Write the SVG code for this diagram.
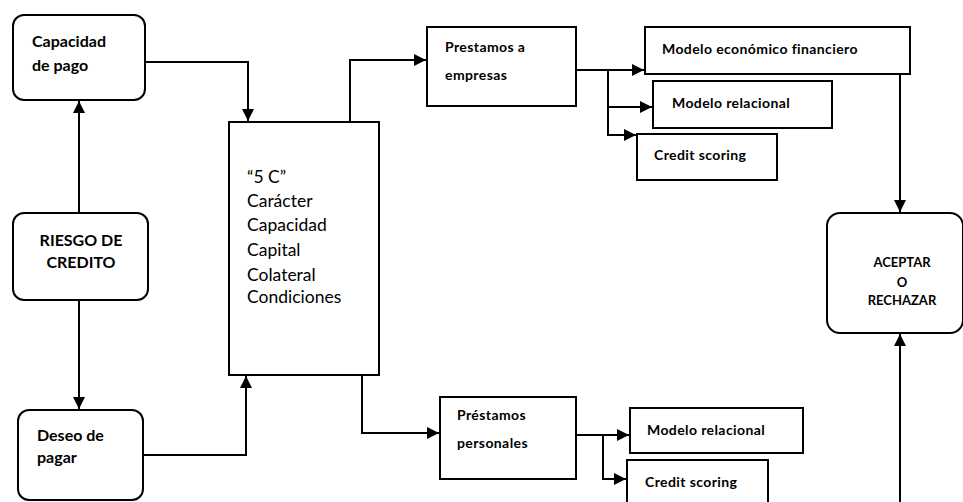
<svg xmlns="http://www.w3.org/2000/svg" width="963" height="502" viewBox="0 0 963 502">
<style>
.box{fill:#fff;stroke:#000;stroke-width:2}
.c{fill:none;stroke:#000;stroke-width:2}
text{font-family:Lato,"Open Sans","Liberation Sans",sans-serif;fill:#000}
.t{font-size:16px;font-weight:bold}
.s{font-size:14px;font-weight:bold;letter-spacing:0.4px}
.a{font-size:13px;font-weight:bold}
.m{font-size:17.5px}
</style>
<defs>
<marker id="ar" viewBox="0 0 10 10" refX="10" refY="5" markerWidth="6" markerHeight="6" orient="auto" markerUnits="strokeWidth">
<path d="M0,0 L10,5 L0,10 z" fill="#000"/>
</marker>
</defs>
<rect width="963" height="502" fill="#fff"/>
<g id="connectors">
<path class="c" d="M145,62 H248 V121" marker-end="url(#ar)"/>
<path class="c" d="M79,213 V101" marker-end="url(#ar)"/>
<path class="c" d="M79,300 V409" marker-end="url(#ar)"/>
<path class="c" d="M143,455 H246 V376" marker-end="url(#ar)"/>
<path class="c" d="M350,122 V60 H426" marker-end="url(#ar)"/>
<path class="c" d="M576,70 H644" marker-end="url(#ar)"/>
<path class="c" d="M608,70 V135 H636" marker-end="url(#ar)"/>
<path class="c" d="M608,107 H652" marker-end="url(#ar)"/>
<path class="c" d="M900,75 V212" marker-end="url(#ar)"/>
<path class="c" d="M900,502 V334" marker-end="url(#ar)"/>
<path class="c" d="M362,375 V433 H439" marker-end="url(#ar)"/>
<path class="c" d="M576,435 H629" marker-end="url(#ar)"/>
<path class="c" d="M603,435 V479 H626" marker-end="url(#ar)"/>
</g>
<g id="capacidad">
<rect class="box" x="13" y="15" width="132" height="85" rx="11"/>
<text class="t" x="32" y="47">Capacidad</text>
<text class="t" x="32" y="71">de pago</text>
</g>
<g id="riesgo">
<rect class="box" x="13" y="213" width="135" height="87" rx="11"/>
<text class="t" x="81" y="246" text-anchor="middle">RIESGO DE</text>
<text class="t" x="81" y="268" text-anchor="middle">CREDITO</text>
</g>
<g id="deseo">
<rect class="box" x="18" y="410" width="125" height="90" rx="11"/>
<text class="t" x="37" y="441">Deseo de</text>
<text class="t" x="37" y="463">pagar</text>
</g>
<g id="cinco">
<rect class="box" x="229" y="122" width="150" height="253"/>
<text class="m" x="247" y="183">“5 C”</text>
<text class="m" x="247" y="207">Carácter</text>
<text class="m" x="247" y="231">Capacidad</text>
<text class="m" x="247" y="256">Capital</text>
<text class="m" x="247" y="281">Colateral</text>
<text class="m" x="247" y="303">Condiciones</text>
</g>
<g id="empresas">
<rect class="box" x="427" y="27" width="149" height="79"/>
<text class="s" x="445" y="52">Prestamos a</text>
<text class="s" x="445" y="80">empresas</text>
</g>
<g id="economico">
<rect class="box" x="645" y="27" width="265" height="47"/>
<text class="s" x="662" y="54">Modelo económico financiero</text>
</g>
<g id="relacional1">
<rect class="box" x="653" y="81" width="179" height="47"/>
<text class="s" x="672" y="108">Modelo relacional</text>
</g>
<g id="scoring1">
<rect class="box" x="637" y="134" width="140" height="46"/>
<text class="s" x="654" y="160">Credit scoring</text>
</g>
<g id="aceptar">
<rect class="box" x="827" y="213" width="136" height="120" rx="13"/>
<text class="a" x="902" y="267" text-anchor="middle">ACEPTAR</text>
<text class="a" x="902" y="287" text-anchor="middle">O</text>
<text class="a" x="902" y="305" text-anchor="middle">RECHAZAR</text>
</g>
<g id="personales">
<rect class="box" x="440" y="397" width="136" height="82"/>
<text class="s" x="457" y="420">Préstamos</text>
<text class="s" x="457" y="448">personales</text>
</g>
<g id="relacional2">
<rect class="box" x="630" y="408" width="173" height="45"/>
<text class="s" x="647" y="435">Modelo relacional</text>
</g>
<g id="scoring2">
<rect class="box" x="627" y="460" width="141" height="50"/>
<text class="s" x="645" y="487">Credit scoring</text>
</g>
</svg>
